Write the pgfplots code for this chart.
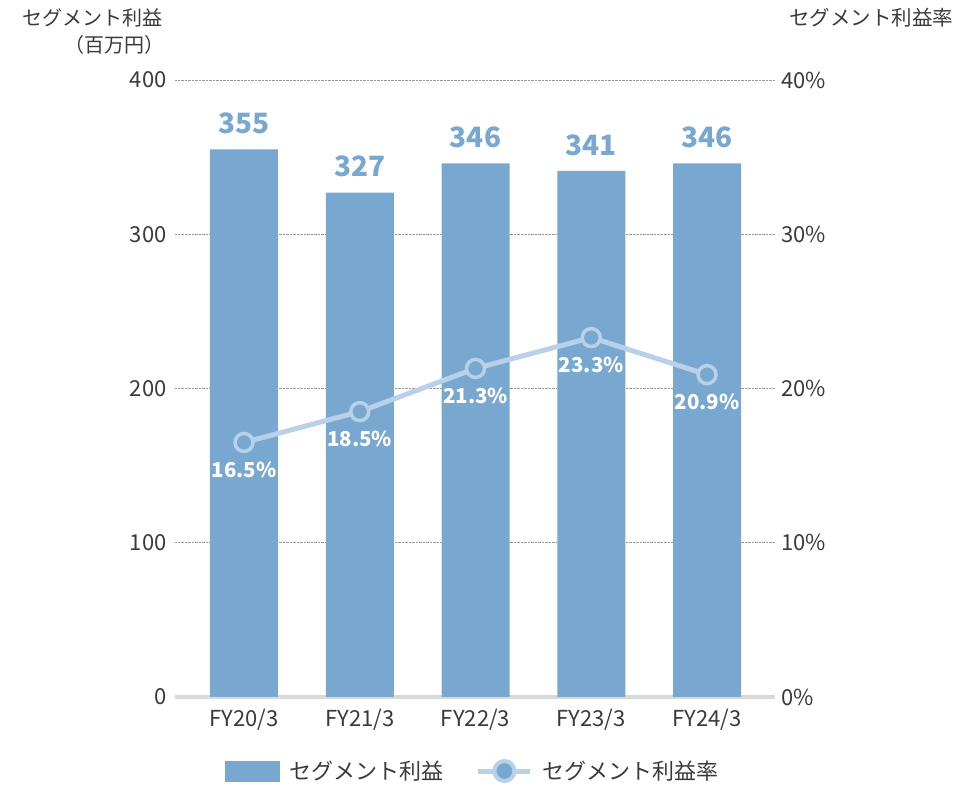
\documentclass[border=0pt]{standalone}
\usepackage{fontspec}
\setmainfont{Noto Sans CJK JP}
\usepackage{pgfplots}
\pgfplotsset{compat=1.18}
\definecolor{barblue}{HTML}{78A8D0}
\definecolor{lineblue}{HTML}{B8D0E8}
\definecolor{txt}{HTML}{3A3A3A}
\begin{document}
\begin{tikzpicture}
\path[use as bounding box] (-175pt,-89pt) rectangle (803pt,697pt);
\begin{axis}[
  at={(0pt,0pt)}, anchor=south west,
  scale only axis, width=600pt, height=617pt,
  xmin=-0.596, xmax=4.587, ymin=0, ymax=400,
  axis line style={draw=none},
  major tick length=0pt,
  ytick={0,100,200,300,400},
  xtick={0,1,2,3,4},
  xticklabels={FY20/3,FY21/3,FY22/3,FY23/3,FY24/3},
  ymajorgrids, grid style={densely dotted, gray!80, line width=0.8pt},
  /pgf/number format/assume math mode=true,
  yticklabel style={anchor=east, xshift=-5pt, font=\fontsize{22}{26}\selectfont, text=txt},
  xticklabel style={anchor=center, yshift=-23pt, font=\fontsize{22}{26}\selectfont, text=txt},
  clip=false,
]
\draw[gray!30, line width=4pt] (axis cs:-0.596,0) -- (axis cs:4.587,0);
\addplot[ybar, bar width=68pt, bar shift=0pt, fill=barblue, draw=none,
  nodes near coords,
  every node near coord/.append style={anchor=center, yshift=26pt,
    font=\fontsize{28}{32}\selectfont\bfseries, text=barblue}]
  coordinates {(0,355) (1,327) (2,346) (3,341) (4,346)};
\end{axis}
\begin{axis}[
  at={(0pt,0pt)}, anchor=south west,
  scale only axis, width=600pt, height=617pt,
  xmin=-0.596, xmax=4.587, ymin=0, ymax=40,
  axis line style={draw=none},
  major tick length=0pt,
  axis y line*=right,
  xtick=\empty,
  ytick={0,10,20,30,40},
  yticklabel={\pgfmathprintnumber{\tick}\%},
  /pgf/number format/assume math mode=true,
  yticklabel style={anchor=west, xshift=3pt, font=\fontsize{22}{26}\selectfont, text=txt},
  clip=false,
  legend style={at={(0.497,-0.12)}, anchor=center, draw=none, fill=none,
    legend columns=2, font=\fontsize{22}{26}\selectfont, text=txt,
    /tikz/every even column/.append style={column sep=30pt},
    /tikz/every odd column/.append style={},
    nodes={inner sep=2pt}},
  legend cell align=left,
]
\addlegendimage{legend image code/.code={\fill[barblue] (-4pt,-10pt) rectangle (50pt,10pt);}}
\addlegendentry{\hspace{8pt}セグメント利益}
\addplot[lineblue, line width=5pt, mark=*, mark size=9pt,
  mark options={fill=barblue, draw=lineblue, line width=3.5pt},
  legend image code/.code={\draw[lineblue, line width=5pt] (-4pt,0pt) -- (48pt,0pt);
     \fill[barblue, draw=lineblue, line width=4pt] (22pt,0pt) circle (10pt);},
  point meta=y,
  nodes near coords={\pgfmathprintnumber[fixed,precision=1,fixed zerofill]{\pgfplotspointmeta}\%},
  every node near coord/.append style={anchor=center, yshift=-27pt,
    font=\fontsize{20.5}{24}\selectfont\bfseries, text=white}]
  coordinates {(0,16.5) (1,18.5) (2,21.3) (3,23.3) (4,20.9)};
\addlegendentry{\hspace{8pt}セグメント利益率}
\end{axis}
\node[anchor=east, text=txt, font=\fontsize{20}{24}\selectfont] at (-9pt,679pt) {セグメント利益};
\node[anchor=east, text=txt, font=\fontsize{20}{24}\selectfont] at (-7pt,652pt) {（百万円）};
\node[anchor=center, text=txt, font=\fontsize{20.5}{24}\selectfont] at (696pt,679pt) {セグメント利益率};
\end{tikzpicture}
\end{document}
